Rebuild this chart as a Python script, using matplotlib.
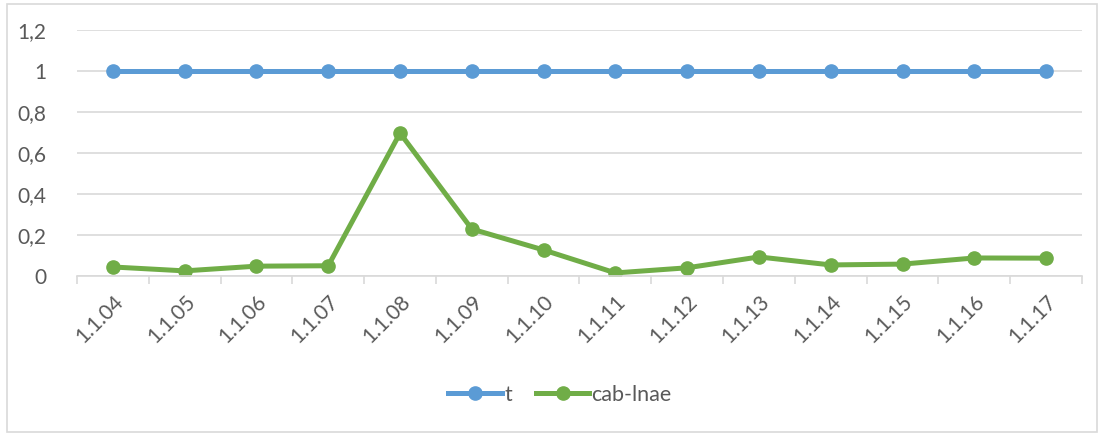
import matplotlib.pyplot as plt
from matplotlib.patches import Rectangle

categories = ["1.1.04", "1.1.05", "1.1.06", "1.1.07", "1.1.08", "1.1.09", "1.1.10",
              "1.1.11", "1.1.12", "1.1.13", "1.1.14", "1.1.15", "1.1.16", "1.1.17"]
t_values = [1, 1, 1, 1, 1, 1, 1, 1, 1, 1, 1, 1, 1, 1]
cab_values = [0.044, 0.025, 0.048, 0.05, 0.697, 0.229, 0.127,
              0.015, 0.04, 0.093, 0.054, 0.058, 0.088, 0.087]
y_ticks = [0, 0.2, 0.4, 0.6, 0.8, 1, 1.2]
y_tick_labels = ["0", "0,2", "0,4", "0,6", "0,8", "1", "1,2"]

plt.rcParams["font.family"] = ["Lato", "DejaVu Sans"]
text_color = "#595959"

fig = plt.figure(figsize=(11.05, 4.36), dpi=100)
ax = fig.add_axes([77 / 1105, 1 - 276 / 436, 1005 / 1105, 246 / 436])

x = list(range(len(categories)))
ax.plot(x, t_values, color="#5b9bd5", linewidth=3.6, marker="o", markersize=9.5, label="t")
ax.plot(x, cab_values, color="#70ad47", linewidth=3.6, marker="o", markersize=9.5, label="cab-lnae")

ax.set_xlim(-0.5, len(categories) - 0.5)
ax.set_ylim(0, 1.2)
ax.set_yticks(y_ticks)
ax.set_yticklabels(y_tick_labels)
ax.yaxis.grid(True, color="#d9d9d9", linewidth=1.2)
ax.set_axisbelow(True)
ax.tick_params(axis="y", length=0, pad=22, labelsize=15, labelcolor=text_color)

# category labels at centres, tick marks at category boundaries
ax.set_xticks(x)
ax.set_xticklabels(categories, rotation=45, ha="right", rotation_mode="anchor")
ax.tick_params(axis="x", which="major", length=0, pad=11, labelsize=15, labelcolor=text_color)
ax.set_xticks([i - 0.5 for i in range(len(categories) + 1)], minor=True)
ax.tick_params(axis="x", which="minor", length=6, width=1.2, color="#d9d9d9", direction="out")

for side in ["top", "right", "left"]:
    ax.spines[side].set_visible(False)
ax.spines["bottom"].set_color("#d9d9d9")
ax.spines["bottom"].set_linewidth(1.2)

leg = fig.legend(loc="center", bbox_to_anchor=(560 / 1105, 1 - 395 / 436), ncol=2, frameon=False,
                 fontsize=15.5, handlelength=2.5, handletextpad=0.1, columnspacing=1.1)
for txt in leg.get_texts():
    txt.set_color(text_color)

fig.patches.append(Rectangle((7 / 1105, 4 / 436), 1090 / 1105, 428 / 436, transform=fig.transFigure,
                             fill=False, edgecolor="#d9d9d9", linewidth=1.2))

fig.savefig("out.png", dpi=100)
